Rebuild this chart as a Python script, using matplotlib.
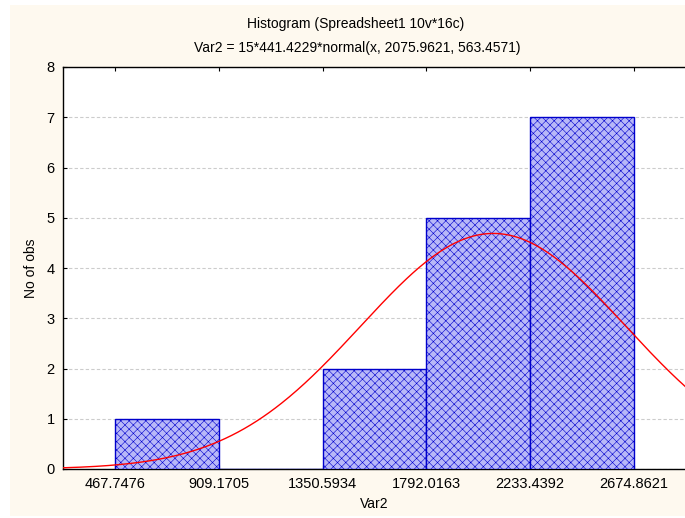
import numpy as np
import matplotlib.pyplot as plt
from matplotlib.patches import Rectangle

# Histogram data
bin_edges = [467.7476, 909.1705, 1350.5934, 1792.0163, 2233.4392, 2674.8621]
counts = [1, 0, 2, 5, 7]
edge_labels = ["467.7476", "909.1705", "1350.5934", "1792.0163", "2233.4392", "2674.8621"]

# fitted normal from the title
n_obs = 15
bin_width = 441.4229
mu = 2075.9621
sigma = 563.4571

plt.rcParams['font.family'] = ['Liberation Sans', 'DejaVu Sans']
plt.rcParams['hatch.color'] = '#7676f2'
plt.rcParams['hatch.linewidth'] = 0.4

fig = plt.figure(figsize=(6.85, 5.18), dpi=100, facecolor='white')
fig.patches.append(Rectangle((10 / 685, 2 / 518), 675 / 685, 511 / 518,
                             transform=fig.transFigure, facecolor='#fef9ef',
                             edgecolor='none', zorder=-10))

ax = fig.add_axes([63 / 685, 49 / 518, 623 / 685, 402 / 518])
ax.set_facecolor('white')

lefts = bin_edges[:-1]
ax.bar(lefts, counts, width=bin_width, align='edge', facecolor='#b8b8f8',
       edgecolor='#0000cc', hatch='xxxx', linewidth=1.0, zorder=3)

x = np.linspace(bin_edges[0] - bin_width / 2, bin_edges[-1] + bin_width / 2, 400)
y = n_obs * bin_width * np.exp(-0.5 * ((x - mu) / sigma) ** 2) / (sigma * np.sqrt(2 * np.pi))
ax.plot(x, y, color='red', linewidth=1.0, zorder=4)

ax.set_xlim(bin_edges[0] - bin_width / 2, bin_edges[-1] + bin_width / 2)
ax.set_ylim(0, 8)
ax.set_xticks(bin_edges)
ax.set_xticklabels(edge_labels)
ax.set_yticks(range(0, 9))
ax.tick_params(axis='both', direction='in', length=3, labelsize=10.5, pad=6,
               top=True, right=False)
ax.yaxis.grid(True, linestyle=(0, (3, 2)), color='#cccccc', linewidth=0.8)
ax.set_axisbelow(True)
for side in ['left', 'bottom', 'top']:
    ax.spines[side].set_linewidth(1.0)
ax.spines['right'].set_visible(False)

ax.set_xlabel("Var2", fontsize=10, labelpad=4)
ax.set_ylabel("No of obs", fontsize=10, labelpad=6)

fig.text(356 / 685, 1 - 24 / 518, "Histogram (Spreadsheet1 10v*16c)", ha='center', va='center', fontsize=10)
fig.text(357 / 685, 1 - 48 / 518, "Var2 = 15*441.4229*normal(x, 2075.9621, 563.4571)",
         ha='center', va='center', fontsize=10)

fig.savefig("out.png", dpi=100, facecolor=fig.get_facecolor())
